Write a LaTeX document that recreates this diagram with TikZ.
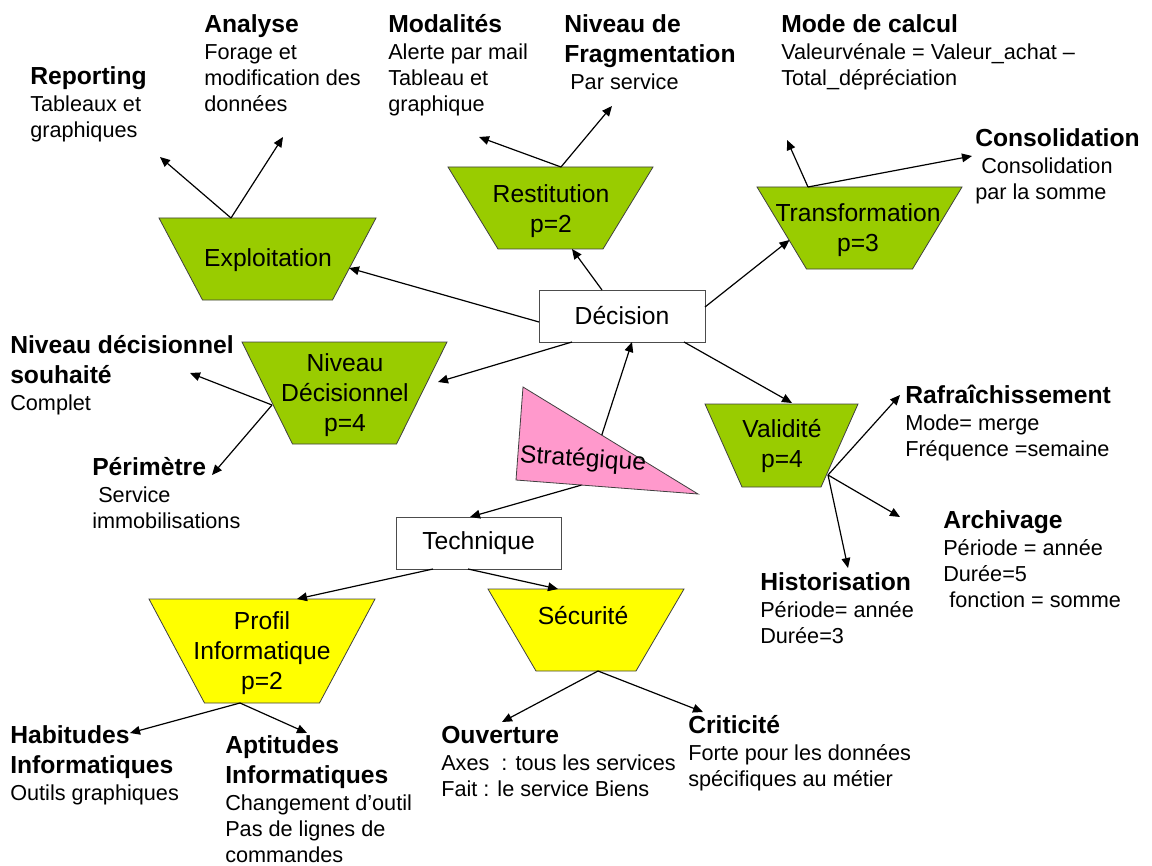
\documentclass[tikz,border=0pt]{standalone}
\usepackage{fontspec}
\setmainfont{Liberation Sans}
\usetikzlibrary{arrows.meta,calc}
\definecolor{lgreen}{HTML}{99CC00}
\definecolor{yel}{HTML}{FFFF00}
\definecolor{stratpink}{HTML}{FF99CC}
\newcommand{\blk}[1]{\begin{tabular}[t]{@{}l@{}}#1\end{tabular}}
\newcommand{\ttl}[1]{{\fontsize{18.5}{19.5}\selectfont\bfseries #1}}
% name, cx, cy, top width, bottom width, height, fill
\newcommand{\trapz}[7]{%
  \coordinate (#1) at (#2,#3);
  \draw[trap, fill=#7] ($(#1)+(-#4/2,-#6/2)$) -- ($(#1)+(#4/2,-#6/2)$)
    -- ($(#1)+(#5/2,#6/2)$) -- ($(#1)+(-#5/2,#6/2)$) -- cycle;}
\begin{document}
\begin{tikzpicture}[x=0.75pt,y=-0.75pt,
  trap/.style={draw=black!75, line width=0.6pt, line join=miter},
  ntext/.style={align=center, font=\fontsize{18.5}{22.5}\selectfont, inner sep=0pt},
  box/.style={draw=black!70, line width=0.6pt, fill=white, inner sep=0pt, outer sep=0pt,
    minimum width={166*0.75pt}, minimum height={52*0.75pt}, font=\fontsize{18.5}{22.5}\selectfont},
  lbl/.style={anchor=base west, inner sep=0pt, font=\fontsize{16.25}{19.5}\selectfont},
  arr/.style={-{Triangle[length=7.5pt,width=6.5pt]}, line width=0.9pt, black}]
\useasboundingbox (0,0) rectangle (1152,866);

% trapezia
\trapz{expl}{267.5}{259}{217}{130}{82}{lgreen}
\trapz{rest}{550.5}{208}{205}{105}{82}{lgreen}
\trapz{trans}{859.5}{228}{205}{106}{82}{lgreen}
\trapz{niv}{344.5}{393}{205}{104}{102}{lgreen}
\trapz{valid}{781.5}{445.5}{153}{79}{83}{lgreen}
\trapz{prof}{262}{651}{226}{115}{104}{yel}
\trapz{secu}{586}{630}{196}{100}{82}{yel}

\node[ntext] (texpl) at (268,260) {Exploitation};
\node[ntext] (trest) at (551,211) {Restitution\\p=2};
\node[ntext] (ttrans) at (858,230) {Transformation\\p=3};
\node[ntext] (tniv) at (345,395) {Niveau\\Décisionnel\\p=4};
\node[ntext] (tvalid) at (782,446) {Validité\\p=4};
\node[ntext] (tprof) at (262,653) {Profil\\Informatique\\p=2};
\node[ntext] (tsecu) at (583,616) {Sécurité};

% boxes
\node[box] (dec) at (622,316) {Décision};
\node[box, minimum width={165*0.75pt}] (tech) at (478.5,543) {Technique};

% triangle
\coordinate (s1) at (523,387);
\coordinate (s2) at (516,480);
\coordinate (s3) at (698,494);
\draw[trap, fill=stratpink] (s1) -- (s2) -- (s3) -- cycle;
\node[ntext, rotate=-4] (strat) at (583,460) {Stratégique};

% labels
\node[lbl] (rep) at (30,85) {\blk{\ttl{Reporting}\\[0.75pt] Tableaux et\\ graphiques}};
\node[lbl] (ana) at (204,33) {\blk{\ttl{Analyse}\\[0.75pt] Forage et\\ modification des\\ données}};
\node[lbl] (moda) at (388,33) {\blk{\ttl{Modalités}\\[0.75pt] Alerte par mail\\ Tableau et\\ graphique}};
\node[lbl] (frag) at (564,33) {\blk{\ttl{Niveau de}\\[3pt] \ttl{Fragmentation}\\[0.75pt] \ Par service}};
\node[lbl] (calc) at (781,33) {\blk{\ttl{Mode de calcul}\\[0.75pt] Valeurvénale = Valeur\_achat –\\ Total\_dépréciation}};
\node[lbl] (cons) at (975,147) {\blk{\ttl{Consolidation}\\[0.75pt] \ Consolidation\\ par la somme}};
\node[lbl] (souh) at (10,353) {\blk{\ttl{Niveau décisionnel}\\[3pt] \ttl{souhaité}\\[0.75pt] Complet}};
\node[lbl] (peri) at (92,475) {\blk{\ttl{Périmètre}\\[0.75pt] \ Service\\ immobilisations}};
\node[lbl] (rafr) at (905,403) {\blk{\ttl{Rafraîchissement}\\[0.75pt] Mode= merge\\ Fréquence =semaine}};
\node[lbl] (arch) at (943,528) {\blk{\ttl{Archivage}\\[0.75pt] Période = année\\ Durée=5\\ \ fonction = somme}};
\node[lbl] (hist) at (760,590) {\blk{\ttl{Historisation}\\[0.75pt] Période= année\\ Durée=3}};
\node[lbl] (habi) at (10,743) {\blk{\ttl{Habitudes}\\[3pt] \ttl{Informatiques}\\[0.75pt] Outils graphiques}};
\node[lbl] (apti) at (225,753) {\blk{\ttl{Aptitudes}\\[3pt] \ttl{Informatiques}\\[0.75pt] Changement d’outil\\ Pas de lignes de\\ commandes}};
\node[lbl] (ouve) at (441,743) {\blk{\ttl{Ouverture}\\[0.75pt] Axes\ \ : tous les services\\ Fait : le service Biens}};
\node[lbl] (crit) at (688,733) {\blk{\ttl{Criticité}\\[0.75pt] Forte pour les données\\ spécifiques au métier}};

% free arrow ends
\coordinate (eRep) at (160,157);
\coordinate (eAna) at (283,137);
\coordinate (eModa) at (479,137);
\coordinate (eFrag) at (612,106);
\coordinate (eCalc) at (787,140);
\coordinate (eCons) at (972,156);
\coordinate (eSouh) at (190,373);
\coordinate (ePeri) at (212,475);
\coordinate (eRafr) at (900,395);
\coordinate (eArch) at (900,517);
\coordinate (eHist) at (848,568);
\coordinate (eHabi) at (130,733);
\coordinate (eApti) at (307,733);
\coordinate (eOuve) at (502,722);
\coordinate (eCrit) at (703,712);

% arrows
\draw[arr] ($(expl)+(-36.5,-41)$) -- (eRep);
\draw[arr] ($(expl)+(-36.5,-41)$) -- (eAna);
\draw[arr] ($(rest)+(10.5,-41)$) -- (eModa);
\draw[arr] ($(rest)+(10.5,-41)$) -- (eFrag);
\draw[arr] ($(dec)+(-20,-26)$) -- ($(rest)+(21.5,41)$);
\draw[arr] ($(trans)+(-51.5,-41)$) -- (eCalc);
\draw[arr] ($(trans)+(-51.5,-41)$) -- (eCons);
\draw[arr] ($(dec)+(83,-9)$) -- ($(trans)+(-70,12)$);
\draw[arr] ($(dec)+(-83,6)$) -- ($(expl)+(81.5,9)$);
\draw[arr] ($(dec)+(-50,26)$) -- ($(niv)+(93.5,-11)$);
\draw[arr] ($(niv)+(-72.5,12)$) -- (eSouh);
\draw[arr] ($(niv)+(-72.5,12)$) -- (ePeri);
\draw[arr] ($(s1)!0.45!(s3)$) -- ($(dec)+(10,26)$);
\draw[arr] ($(s2)!0.36!(s3)$) -- ($(tech)+(-8.5,-26)$);
\draw[arr] ($(dec)+(62,26)$) -- ($(valid)+(10.5,-42.5)$);
\draw[arr] ($(valid)+(46.5,29.5)$) -- (eRafr);
\draw[arr] ($(valid)+(46.5,29.5)$) -- (eArch);
\draw[arr] ($(valid)+(46.5,29.5)$) -- (eHist);
\draw[arr] ($(tech)+(-45.5,26)$) -- ($(prof)+(35,-52)$);
\draw[arr] ($(prof)+(-22,52)$) -- (eHabi);
\draw[arr] ($(prof)+(-22,52)$) -- (eApti);
\draw[arr] ($(tech)+(-10.5,26)$) -- ($(secu)+(-28,-41)$);
\draw[arr] ($(secu)+(12,41)$) -- (eOuve);
\draw[arr] ($(secu)+(12,41)$) -- (eCrit);
\end{tikzpicture}
\end{document}
